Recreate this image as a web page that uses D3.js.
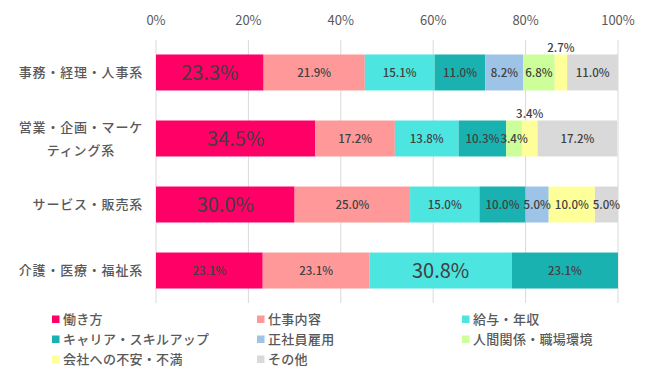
<!DOCTYPE html>
<html>
<head>
<meta charset="utf-8">
<script src="https://cdn.jsdelivr.net/npm/d3@7"></script>
<style>
  body { margin: 0; background: #fff; }
  svg { font-family: "Noto Sans CJK JP", "Noto Sans", sans-serif; }
</style>
</head>
<body>
<div id="chart"></div>
<script>
var categories = ["事務・経理・人事系", "営業・企画・マーケティング系", "サービス・販売系", "介護・医療・福祉系"];
var seriesNames = ["働き方", "仕事内容", "給与・年収", "キャリア・スキルアップ", "正社員雇用", "人間関係・職場環境", "会社への不安・不満", "その他"];
var hatarakikata = [23.3, 34.5, 30.0, 23.1];
var shigotoNaiyo = [21.9, 17.2, 25.0, 23.1];
var kyuyo = [15.1, 13.8, 15.0, 30.8];
var career = [11.0, 10.3, 10.0, 23.1];
var seishain = [8.2, 0, 5.0, 0];
var ningenKankei = [6.8, 3.4, 0, 0];
var kaishaFuan = [2.7, 3.4, 10.0, 0];
var sonota = [11.0, 17.2, 5.0, 0];
var tickValues = [0, 20, 40, 60, 80, 100];

var seriesValues = [hatarakikata, shigotoNaiyo, kyuyo, career, seishain, ningenKankei, kaishaFuan, sonota];
var colors = ["#ff0066", "#ff9999", "#4de5e0", "#1ab2b0", "#9dc3e6", "#ccff99", "#ffff99", "#d9d9d9"];

var svgWidth = 650;
var svgHeight = 380;

var svg = d3.select("#chart")
  .append("svg")
  .attr("width", svgWidth)
  .attr("height", svgHeight);

var x = d3.scaleLinear().domain([0, 100]).range([156, 618]);
var y = d3.scaleBand()
  .domain(categories)
  .range([39.5, 303.5])
  .paddingInner(0.455)
  .paddingOuter(0.227);

// build rows of stacked segments
var rows = categories.map(function(cat, i) {
  var row = { cat: cat, segs: [] };
  var start = 0;
  var maxVal = d3.max(seriesValues, function(s) { return s[i]; });
  seriesValues.forEach(function(s, k) {
    var v = s[i];
    if (v > 0) {
      row.segs.push({ key: seriesNames[k], k: k, v: v, x0: start, x1: Math.min(start + v, 100), isMax: v === maxVal });
    }
    start += v;
  });
  return row;
});

// gridlines
svg.append("g")
  .selectAll("line")
  .data(tickValues)
  .enter()
  .append("line")
  .attr("x1", d => x(d))
  .attr("x2", d => x(d))
  .attr("y1", 40)
  .attr("y2", 303)
  .attr("stroke", "#d9d9d9")
  .attr("stroke-width", 1);

// top tick labels
svg.append("g")
  .selectAll("text")
  .data(tickValues)
  .enter()
  .append("text")
  .attr("x", d => x(d))
  .attr("y", 25)
  .attr("text-anchor", "middle")
  .attr("font-size", 13)
  .attr("fill", "#595959")
  .text(d => d + "%");

var rowGroups = svg.append("g")
  .selectAll("g")
  .data(rows)
  .enter()
  .append("g");

rowGroups.selectAll("rect")
  .data(d => d.segs.map(s => Object.assign({ cat: d.cat }, s)))
  .enter()
  .append("rect")
  .attr("x", d => x(d.x0))
  .attr("y", d => y(d.cat))
  .attr("width", d => x(d.x1) - x(d.x0))
  .attr("height", y.bandwidth())
  .attr("fill", d => colors[d.k]);

// value labels
rowGroups.selectAll("text")
  .data(d => d.segs.map(s => Object.assign({ cat: d.cat }, s)))
  .enter()
  .append("text")
  .attr("x", d => x((d.x0 + d.x1) / 2))
  .attr("y", function(d) {
    var outside = d.k === 6 && d.v < 5;
    return outside ? y(d.cat) - 7 : y(d.cat) + y.bandwidth() / 2;
  })
  .attr("dy", "0.36em")
  .attr("text-anchor", "middle")
  .attr("font-size", d => d.isMax ? 20 : 11.5)
  .attr("font-weight", d => d.isMax ? 400 : 500)
  .attr("fill", "#404040")
  .text(d => d.v.toFixed(1) + "%");

// category labels
var maxChars = 9;
categories.forEach(function(cat) {
  var cy = y(cat) + y.bandwidth() / 2;
  var lines = [];
  for (var p = 0; p < cat.length; p += maxChars) lines.push(cat.slice(p, p + maxChars));
  var first = svg.append("text")
    .attr("x", 143)
    .attr("y", cy - (lines.length - 1) * 11.5)
    .attr("dy", "0.36em")
    .attr("text-anchor", "end")
    .attr("font-size", 13)
    .attr("letter-spacing", 0.8)
    .attr("font-weight", 500)
    .attr("fill", "#595959")
    .text(lines[0]);
  var w = first.node().getComputedTextLength();
  for (var j = 1; j < lines.length; j++) {
    svg.append("text")
      .attr("x", 143 - w / 2)
      .attr("y", cy - (lines.length - 1) * 11.5 + j * 23)
      .attr("dy", "0.36em")
      .attr("text-anchor", "middle")
      .attr("font-size", 13)
      .attr("letter-spacing", 0.8)
      .attr("font-weight", 500)
      .attr("fill", "#595959")
      .text(lines[j]);
  }
});

// legend
var legendCols = [52, 257, 462];
var legend = svg.append("g")
  .selectAll("g")
  .data(seriesNames)
  .enter()
  .append("g")
  .attr("transform", (d, i) => `translate(${legendCols[i % 3]}, ${319 + Math.floor(i / 3) * 20})`);

legend.append("rect")
  .attr("x", 0)
  .attr("y", -3.5)
  .attr("width", 7.5)
  .attr("height", 7.5)
  .attr("fill", (d, i) => colors[i]);

legend.append("text")
  .attr("x", 11)
  .attr("y", 0)
  .attr("dy", "0.36em")
  .attr("font-size", 13)
  .attr("letter-spacing", 0.3)
  .attr("font-weight", 500)
  .attr("fill", "#595959")
  .text(d => d);
</script>
</body>
</html>
